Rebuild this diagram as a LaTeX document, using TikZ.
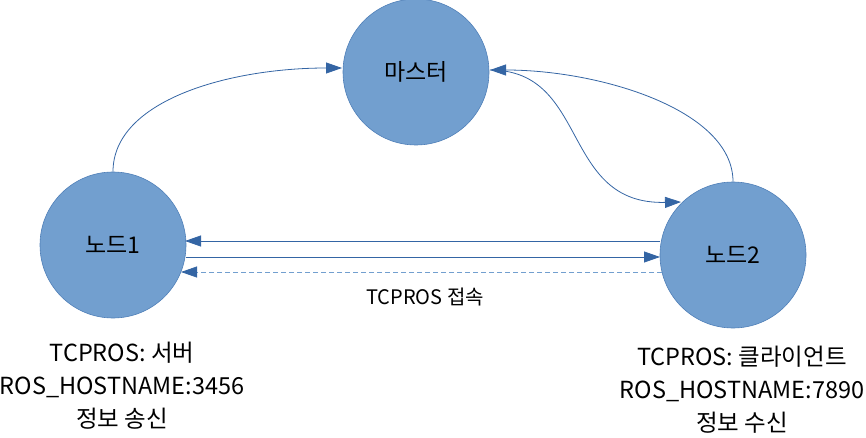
\documentclass[tikz,border=0pt]{standalone}
\usepackage{fontspec}
\setmainfont{Noto Sans CJK KR}
\usetikzlibrary{arrows.meta}
\definecolor{nodefill}{HTML}{729FCF}
\definecolor{nodeedge}{HTML}{4F7FB8}
\definecolor{arrowc}{HTML}{3465A4}
\definecolor{dashc}{HTML}{729FCF}
\begin{document}
\begin{tikzpicture}[x=1pt,y=-1pt,
  circ/.style={circle,draw=nodeedge,fill=nodefill,line width=0.6pt,minimum size=146pt,inner sep=0pt,font=\fontsize{23}{27}\selectfont},
  conn/.style={draw=arrowc,line width=0.8pt,-{Triangle[length=16pt,width=11pt]}},
  dconn/.style={draw=dashc,line width=0.8pt,dash pattern=on 5pt off 3pt,-{Triangle[length=16pt,width=11pt,color=arrowc,fill=arrowc]}},
  lbl/.style={align=center,font=\fontsize{23.5}{33}\selectfont,inner sep=0pt}]
\useasboundingbox (0,0) rectangle (866,438);
\node[circ] (m) at (416,72) {마스터};
\node[circ] (n1) at (113,245) {노드1};
\node[circ] (n2) at (733,255) {노드2};
\coordinate (mL) at (342,68);
\coordinate (mR) at (490,70);
\draw[conn] (n1.north) .. controls (113,100) and (230,68) .. (mL);
\draw[conn] (n2.north) .. controls (733,110) and (600,70) .. (mR);
\draw[conn] (mR) .. controls (590,70) and (560,205) .. (681,202);
\coordinate (a1) at (660,241);
\coordinate (b1) at (185,241);
\coordinate (a2) at (186,257);
\coordinate (b2) at (660,257);
\coordinate (a3) at (662,272);
\coordinate (b3) at (181,272);
\draw[conn] (a1) -- (b1);
\draw[conn] (a2) -- (b2);
\draw[dconn] (a3) -- (b3);
\node[font=\fontsize{20}{24}\selectfont] (t) at (425,297) {TCPROS 접속};
\node[lbl] (l1) at (122,386) {TCPROS: 서버\\ROS\_HOSTNAME:3456\\정보 송신};
\node[lbl] (l2) at (742,390) {TCPROS: 클라이언트\\ROS\_HOSTNAME:7890\\정보 수신};
\end{tikzpicture}
\end{document}
